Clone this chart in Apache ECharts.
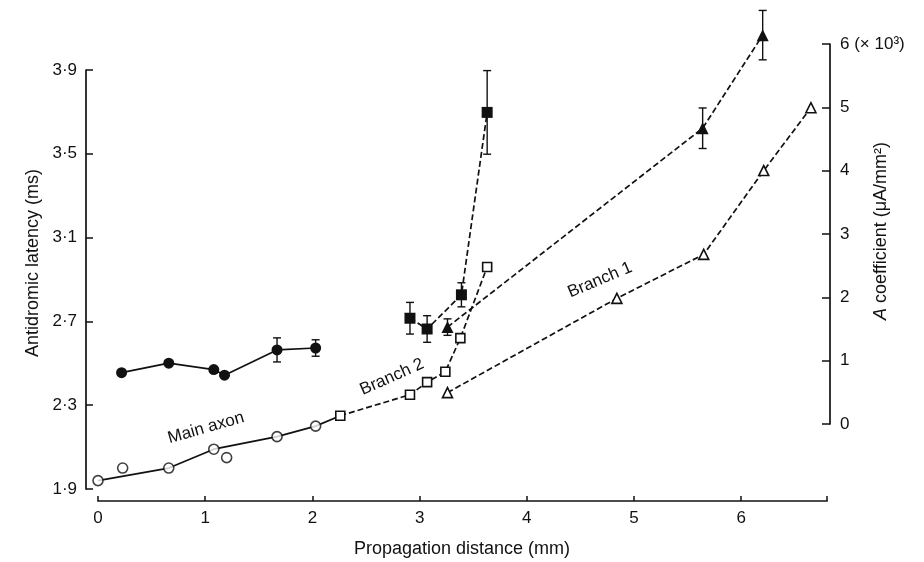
<!DOCTYPE html>
<html>
<head>
<meta charset="utf-8">
<script src="https://cdn.jsdelivr.net/npm/echarts@6/dist/echarts.min.js"></script>
<style>
  html, body { margin: 0; padding: 0; background: #fff; }
  #main { width: 924px; height: 562px; }
</style>
</head>
<body>
<div id="main"></div>
<script>
// open symbols: antidromic latency (ms), left axis
var mainAxonDist = [0, 0.23, 0.66, 1.08, 1.20, 1.67, 2.03];
var mainAxonLatency = [1.94, 2.00, 2.00, 2.09, 2.05, 2.15, 2.20];
var mainAxonOffLine = [1, 4]; // circles not joined by the line
var branch2Dist = [2.26, 2.91, 3.07, 3.24, 3.38, 3.63];
var branch2Latency = [2.25, 2.35, 2.41, 2.46, 2.62, 2.96];
var branch1Dist = [3.26, 4.84, 5.65, 6.21, 6.65];
var branch1Latency = [2.36, 2.81, 3.02, 3.42, 3.72];

// filled symbols: A coefficient (x 10^3 uA/mm2), right axis
var mainADist = [0.22, 0.66, 1.08, 1.18, 1.67, 2.03];
var mainA = [0.81, 0.96, 0.86, 0.77, 1.17, 1.20];
var mainAErr = [0, 0, 0, 0, 0.19, 0.13];
var branch2ADist = [2.91, 3.07, 3.39, 3.63];
var branch2A = [1.67, 1.50, 2.04, 4.92];
var branch2AErr = [0.25, 0.21, 0.19, 0.66];
var branch1ADist = [3.26, 5.64, 6.20];
var branch1A = [1.53, 4.67, 6.14];
var branch1AErr = [0.13, 0.32, 0.39];

var xTicks = [0, 1, 2, 3, 4, 5, 6];
var latencyTicks = [1.9, 3.9, 0.4];   // min, max, step
var coeffTicks = [0, 6, 1];

var INK = '#111';
var FONT = 'Liberation Sans';

// pixel frame (layout)
var plotTop = 44, plotBottom = 501, plotLeft = 98, plotRight = 827;
var latTopPx = 70, latBottomPx = 489;
var coefTopPx = 44, coefBottomPx = 424;
var xMax = 6.8;

var latPerPx = (latencyTicks[1] - latencyTicks[0]) / (latBottomPx - latTopPx);
var latMin = latencyTicks[0] - (plotBottom - latBottomPx) * latPerPx;
var latMax = latencyTicks[1] + (latTopPx - plotTop) * latPerPx;
var coefPerPx = (coeffTicks[1] - coeffTicks[0]) / (coefBottomPx - coefTopPx);
var coefMin = coeffTicks[0] - (plotBottom - coefBottomPx) * coefPerPx;
var coefMax = coeffTicks[1] + (coefTopPx - plotTop) * coefPerPx;

function zip(xs, ys) {
  return xs.map(function (x, i) { return [x, ys[i]]; });
}
function zip3(xs, ys, es) {
  return xs.map(function (x, i) { return [x, ys[i], es[i]]; });
}

var mainLine = [];
mainAxonDist.forEach(function (x, i) {
  if (mainAxonOffLine.indexOf(i) < 0) mainLine.push([x, mainAxonLatency[i]]);
});
mainLine.push([branch2Dist[0], branch2Latency[0]]);

var openStyle = { color: '#fff', borderColor: INK, borderWidth: 1.6 };
var filledStyle = { color: INK };
var dashed = { color: INK, width: 1.7, type: [6, 3] };
var solid = { color: INK, width: 1.7 };

function errorBars(data, yIndex) {
  return {
    type: 'custom',
    xAxisIndex: 0,
    yAxisIndex: yIndex,
    z: 4,
    silent: true,
    data: data.filter(function (d) { return d[2] > 0; }),
    renderItem: function (params, api) {
      var x = api.value(0), y = api.value(1), e = api.value(2);
      var top = api.coord([x, y + e]);
      var bot = api.coord([x, y - e]);
      var st = { stroke: INK, lineWidth: 1.4 };
      return {
        type: 'group',
        children: [
          { type: 'line', shape: { x1: top[0], y1: top[1], x2: bot[0], y2: bot[1] }, style: st },
          { type: 'line', shape: { x1: top[0] - 4, y1: top[1], x2: top[0] + 4, y2: top[1] }, style: st },
          { type: 'line', shape: { x1: bot[0] - 4, y1: bot[1], x2: bot[0] + 4, y2: bot[1] }, style: st }
        ]
      };
    }
  };
}

var labelStyle = { color: INK, fontFamily: FONT, fontSize: 17 };
var nameFont = '18px "Liberation Sans"';
var noteFont = '17px "Liberation Sans"';

var chart = echarts.init(document.getElementById('main'));
chart.setOption({
  backgroundColor: '#fff',
  animation: false,
  grid: [
    { left: plotLeft, top: plotTop, width: plotRight - plotLeft, height: plotBottom - plotTop },
    { left: 86, top: latTopPx, width: 1, height: latBottomPx - latTopPx },
    { left: 829, top: coefTopPx, width: 1, height: coefBottomPx - coefTopPx }
  ],
  xAxis: [
    {
      gridIndex: 0, type: 'value', min: 0, max: xMax, interval: 1,
      splitLine: { show: false },
      axisLine: { onZero: false, lineStyle: { color: INK, width: 1.7 } },
      axisTick: { inside: true, length: 5, customValues: xTicks.concat([xMax]), lineStyle: { color: INK, width: 1.5 } },
      axisLabel: Object.assign({ margin: 9, customValues: xTicks }, labelStyle)
    },
    { gridIndex: 1, type: 'value', show: false },
    { gridIndex: 2, type: 'value', show: false }
  ],
  yAxis: [
    { gridIndex: 0, type: 'value', min: latMin, max: latMax, show: false },
    { gridIndex: 0, type: 'value', min: coefMin, max: coefMax, show: false },
    {
      gridIndex: 1, type: 'value', position: 'left',
      min: latencyTicks[0], max: latencyTicks[1], interval: latencyTicks[2],
      splitLine: { show: false },
      axisLine: { show: true, onZero: false, lineStyle: { color: INK, width: 1.7 } },
      axisTick: { show: true, inside: true, length: 7, lineStyle: { color: INK, width: 1.5 } },
      axisLabel: Object.assign({
        margin: 9,
        formatter: function (v) { return v.toFixed(1).replace('.', '\u00b7'); }
      }, labelStyle)
    },
    {
      gridIndex: 2, type: 'value', position: 'right',
      min: coeffTicks[0], max: coeffTicks[1], interval: coeffTicks[2],
      splitLine: { show: false },
      axisLine: { show: true, onZero: false, lineStyle: { color: INK, width: 1.7 } },
      axisTick: { show: true, inside: true, length: 8, lineStyle: { color: INK, width: 1.5 } },
      axisLabel: Object.assign({
        margin: 10,
        formatter: function (v) { return v === 6 ? '6 (\u00d7 10\u00b3)' : String(v); }
      }, labelStyle)
    }
  ],
  graphic: [
    { type: 'text', x: 33, y: 263, rotation: Math.PI / 2,
      style: { text: 'Antidromic latency (ms)', fill: INK, font: nameFont, align: 'center', verticalAlign: 'middle' } },
    { type: 'text', x: 881, y: 231, rotation: Math.PI / 2,
      style: { text: '{i|A} coefficient (\u03bcA/mm\u00b2)', fill: INK, font: nameFont, align: 'center', verticalAlign: 'middle',
        rich: { i: { fontStyle: 'italic', fontSize: 18, fontFamily: FONT, fill: INK } } } },
    { type: 'text', x: 462, y: 549,
      style: { text: 'Propagation distance (mm)', fill: INK, font: nameFont, align: 'center', verticalAlign: 'middle' } },
    { type: 'text', x: 206, y: 428, rotation: 16 * Math.PI / 180,
      style: { text: 'Main axon', fill: INK, font: noteFont, align: 'center', verticalAlign: 'middle' } },
    { type: 'text', x: 392, y: 377, rotation: 24 * Math.PI / 180,
      style: { text: 'Branch 2', fill: INK, font: noteFont, align: 'center', verticalAlign: 'middle' } },
    { type: 'text', x: 600, y: 280, rotation: 23 * Math.PI / 180,
      style: { text: 'Branch 1', fill: INK, font: noteFont, align: 'center', verticalAlign: 'middle' } }
  ],
  series: [
    { type: 'line', xAxisIndex: 0, yAxisIndex: 0, data: mainLine, symbol: 'none', lineStyle: solid, clip: false, z: 2 },
    { type: 'scatter', xAxisIndex: 0, yAxisIndex: 0, data: zip(mainAxonDist, mainAxonLatency),
      symbol: 'circle', symbolSize: 10, itemStyle: openStyle, clip: false, z: 5 },
    { type: 'line', xAxisIndex: 0, yAxisIndex: 0, data: zip(branch2Dist, branch2Latency),
      symbol: 'rect', symbolSize: 9, itemStyle: openStyle, lineStyle: dashed, clip: false, z: 3 },
    { type: 'line', xAxisIndex: 0, yAxisIndex: 0, data: zip(branch1Dist, branch1Latency),
      symbol: 'triangle', symbolSize: 10, itemStyle: openStyle, lineStyle: dashed, clip: false, z: 3 },
    { type: 'line', xAxisIndex: 0, yAxisIndex: 1, data: zip(mainADist, mainA),
      symbol: 'circle', symbolSize: 11, itemStyle: filledStyle, lineStyle: solid, clip: false, z: 3 },
    { type: 'line', xAxisIndex: 0, yAxisIndex: 1, data: zip(branch2ADist, branch2A),
      symbol: 'rect', symbolSize: 11, itemStyle: filledStyle, lineStyle: dashed, clip: false, z: 3 },
    { type: 'line', xAxisIndex: 0, yAxisIndex: 1, data: zip(branch1ADist, branch1A),
      symbol: 'triangle', symbolSize: 12, itemStyle: filledStyle, lineStyle: dashed, clip: false, z: 3 },
    errorBars(zip3(mainADist, mainA, mainAErr), 1),
    errorBars(zip3(branch2ADist, branch2A, branch2AErr), 1),
    errorBars(zip3(branch1ADist, branch1A, branch1AErr), 1)
  ]
});
</script>
</body>
</html>
